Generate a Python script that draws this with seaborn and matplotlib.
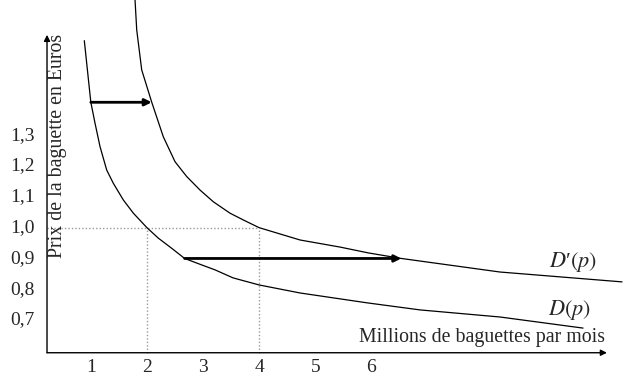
import matplotlib
matplotlib.use("Agg")
import matplotlib.pyplot as plt
import seaborn as sns

# Demand curves (millions of baguettes, price in euros)
d_qty = [0.884, 1.0, 1.075, 1.164, 1.283, 1.401, 1.579, 1.758, 2.0, 2.203,
         2.442, 2.672, 2.977, 3.214, 3.535, 4.0, 4.729, 5.923, 6.868, 8.294, 9.774]
d_price = [1.607, 1.407, 1.339, 1.263, 1.187, 1.144, 1.090, 1.047, 1.0, 0.966,
           0.933, 0.900, 0.879, 0.863, 0.837, 0.814, 0.788, 0.756, 0.733, 0.710, 0.674]

d2_qty = [1.788, 1.818, 1.907, 2.086, 2.292, 2.501, 2.709, 2.947, 3.184, 3.481,
          3.718, 4.0, 4.729, 5.442, 5.947, 6.535, 8.294, 10.469]
d2_price = [1.739, 1.642, 1.512, 1.407, 1.295, 1.214, 1.166, 1.122, 1.084, 1.047,
            1.025, 1.0, 0.960, 0.937, 0.918, 0.900, 0.856, 0.824]

# shift arrows: (from qty, to qty, price)
shifts = [(1.0, 2.086, 1.407), (2.672, 6.535, 0.900)]

# reference point lines
ref_price = 1.0
ref_qty = [2, 4]

x_ticks = [1, 2, 3, 4, 5, 6]
y_ticks = [0.7, 0.8, 0.9, 1.0, 1.1, 1.2, 1.3]
y_tick_labels = ["0,7", "0,8", "0,9", "1,0", "1,1", "1,2", "1,3"]

sns.set_theme(style="white")
plt.rcParams["font.family"] = ["Liberation Serif", "DejaVu Serif"]
plt.rcParams["mathtext.fontset"] = "stix"

fig = plt.figure(figsize=(6.24, 3.8), dpi=100)
ax = fig.add_axes([0, 0, 1, 1])
ax.set_xlim(-0.619, 10.504)
ax.set_ylim(0.5055, 1.739)
ax.axis("off")

x0, y0 = 0.219, 0.594
axis_arrow = dict(arrowstyle="-|>", color="black", lw=1, mutation_scale=9,
                  shrinkA=0, shrinkB=0)
ax.annotate("", xy=(x0, 1.626), xytext=(x0, y0), arrowprops=axis_arrow)
ax.annotate("", xy=(10.2, y0), xytext=(x0, y0), arrowprops=axis_arrow)

# dotted guides
dot = dict(color="#9a9a9a", lw=1, linestyle=(0, (1, 1.5)))
ax.plot([x0, max(ref_qty)], [ref_price, ref_price], **dot)
for q in ref_qty:
    ax.plot([q, q], [y0, ref_price], **dot)

# curves
sns.lineplot(x=d_qty, y=d_price, ax=ax, color="black", lw=0.9, sort=False, estimator=None)
sns.lineplot(x=d2_qty, y=d2_price, ax=ax, color="black", lw=0.9, sort=False, estimator=None)

shift_arrow = dict(arrowstyle="-|>", color="black", lw=2, mutation_scale=10,
                   shrinkA=0, shrinkB=0)
for q_from, q_to, p in shifts:
    ax.annotate("", xy=(q_to, p), xytext=(q_from, p), arrowprops=shift_arrow)

# tick labels
for q in x_ticks:
    ax.text(q, 0.5445, str(q), ha="center", va="center", fontsize=14)
for p, lab in zip(y_ticks, y_tick_labels):
    ax.text(0.0, p, lab, ha="right", va="center", fontsize=14)

ax.text(0.41, 1.265, "Prix de la baguette en Euros", rotation=90,
        ha="center", va="center", fontsize=14.3)
ax.text(7.964, 0.642, "Millions de baguettes par mois", ha="center",
        va="center", fontsize=14.3)
ax.text(9.596, 0.889, "$D$\u2032$(p)$", ha="center", va="center", fontsize=16)
ax.text(9.542, 0.733, "$D(p)$", ha="center", va="center", fontsize=16)

fig.savefig("out.png", dpi=100)
